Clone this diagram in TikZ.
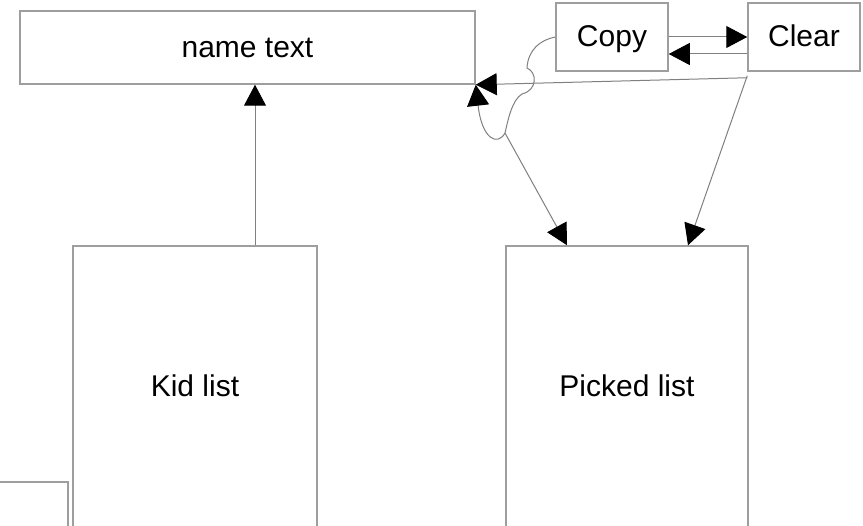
\documentclass[tikz,border=0pt]{standalone}
\usepackage{fontspec}
\setmainfont{Liberation Sans}
\usetikzlibrary{arrows.meta}

\begin{document}
\begin{tikzpicture}[x=1pt, y=-1pt,
		box/.style={draw=black!38, line width=1.5pt, inner sep=0pt, text height=26pt, text depth=6pt, font=\fontsize{30}{36}\selectfont},
		link/.style={draw=black!50, line width=1pt, -{Triangle[length=21pt, width=22pt, color=black]}}]
			%%%%% START %%%%%
			
			\clip (0, 0) rectangle (863, 526);
			\fill[white] (0, 0) rectangle (863, 526);
			
			\node[box, minimum width=455pt, minimum height=73pt] (name) at (247.5, 47.5) {name text};
			\node[box, minimum width=112pt, minimum height=68pt] (copy) at (612, 37) {Copy};
			\node[box, minimum width=112pt, minimum height=68pt] (clear) at (804, 37) {Clear};
			
			\node[box, minimum width=244pt, minimum height=282pt] (kid) at (195, 387) {Kid list};
			\node[box, minimum width=242pt, minimum height=282pt] (picked) at (627, 387) {Picked list};
			\node[box, minimum width=90pt, minimum height=80pt] (corner) at (23, 522) {};
			
			\draw[link] ([xshift=60pt]kid.north) -- ([xshift=60pt]kid.north |- name.south);
			
			\draw[link] (copy.east) -- (copy.east -| clear.west);
			\draw[link] ([yshift=-17pt]clear.west) -- ([yshift=-17pt]clear.west -| copy.east);
			
			\draw[link] ([yshift=-6pt]clear.south west) -- (name.south east);
			\draw[link] ([yshift=-4pt]clear.south west) -- ([xshift=61pt]picked.north);
			
			% copy goes back to the text and on to the picked list
			\draw[draw=black!50, line width=1pt] (copy.west) .. controls (540, 40) and (528, 50) .. (527, 68)
				.. controls (537, 72) and (538, 90) .. (522, 94)
				.. controls (512, 100) and (508, 120) .. (505, 133) coordinate (fork);
			\draw[link] (fork) .. controls (498, 146) and (482, 140) .. (name.south east);
			\draw[link] (fork) -- ([xshift=-60pt]picked.north);
			
			%%%%% END %%%%%
		\end{tikzpicture}
\end{document}
